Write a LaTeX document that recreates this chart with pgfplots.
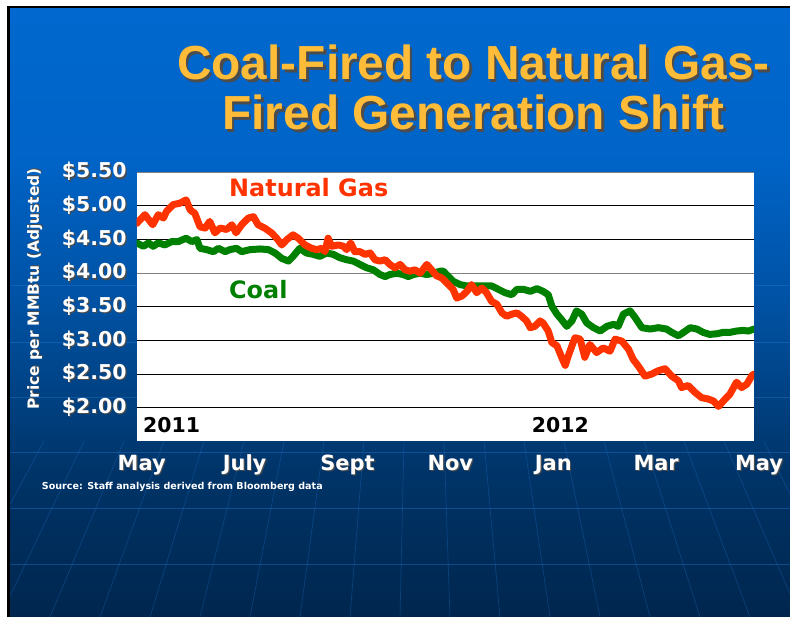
\documentclass[border=0pt]{standalone}
\usepackage{fontspec}
\setmainfont{DejaVu Sans}
\newfontfamily\titlefont{Liberation Sans}
\usepackage{pgfplots}
\pgfplotsset{compat=1.18}

\definecolor{gascol}{RGB}{255,51,0}
\definecolor{coalcol}{RGB}{0,128,0}
\definecolor{titlecol}{RGB}{255,188,56}
\definecolor{bg0}{RGB}{0,38,78}
\definecolor{bg1}{RGB}{0,52,104}
\definecolor{bg2}{RGB}{0,80,160}
\definecolor{bg3}{RGB}{0,100,200}
\definecolor{bg4}{RGB}{0,104,206}
\definecolor{bgline}{RGB}{40,120,210}
\pgfdeclareverticalshading{slide}{100bp}{color(0bp)=(bg0); color(25bp)=(bg0); color(37bp)=(bg1); color(50bp)=(bg2); color(63bp)=(bg3); color(75bp)=(bg4); color(100bp)=(bg4)}

% text with a small dark drop shadow
\newcommand\shadowed[2][1.2bp]{\rlap{\kern#1\raisebox{-#1}{\textcolor{black!70}{#2}}}#2}

\begin{document}
\begin{tikzpicture}
\begin{scope}[x=1bp,y=1bp]
\useasboundingbox (0,0) rectangle (790,617);
\fill[white] (0,0) rectangle (790,617);
\fill[black] (7,0) rectangle (790,611);
\shade[shading=slide] (10,0) rectangle (790,608);
% faint globe lines
\begin{scope}
\clip (10,0) rectangle (790,608);
\foreach \yy in {285,342,397,452,508,564}
  \draw[bgline, opacity=0.4, line width=0.8] (10,617-\yy) -- (790,617-\yy);
\foreach \b in {-100,-50,...,950}
  \draw[bgline, opacity=0.3, line width=0.7] ({420+(\b-420)*0.8},176) -- (\b,0);
\end{scope}
\end{scope}

\begin{axis}[
  at={(136.7bp,176.3bp)}, anchor=south west,
  scale only axis, width=617.3bp, height=268.4bp,
  xmin=0, xmax=12, ymin=1.51, ymax=5.5,
  axis line style={draw=none},
  axis background/.style={fill=white},
  xtick={0,2,4,6,8,10,12},
  xticklabels={\shadowed{May},\shadowed{July},\shadowed{Sept},\shadowed{Nov},\shadowed{Jan},\shadowed{Mar},\shadowed{May}},
  ytick={2,2.5,3,3.5,4.5,5},
  yticklabels={\shadowed{\$2.00},\shadowed{\$2.50},\shadowed{\$3.00},\shadowed{\$3.50},\shadowed{\$4.50},\shadowed{\$5.00}},
  extra y ticks={4,5.5},
  extra y tick labels={\shadowed{\$4.00},\shadowed{\$5.50}},
  extra y tick style={grid style={draw=gray, line width=1bp}},
  ymajorgrids,
  grid style={draw=black, line width=0.9bp},
  major tick length=0pt,
  tick style={draw=none},
  ticklabel style={text=white},
  yticklabel style={anchor=east, inner sep=0pt, xshift=-10bp, font=\bfseries\fontsize{20.5}{24}\selectfont},
  xticklabel style={anchor=north, inner sep=0pt, text height=16bp, text depth=4bp, yshift=-13.3bp, xshift=5bp, font=\bfseries\fontsize{21}{24}\selectfont},
]
\addplot[coalcol, line width=7bp, line join=round, line cap=round] coordinates {
(0.00,4.45) (0.13,4.40) (0.23,4.45) (0.32,4.40) (0.42,4.45) (0.55,4.42) (0.68,4.47) (0.81,4.47) (0.96,4.52) (1.07,4.47) (1.17,4.50) (1.23,4.37) (1.36,4.35) (1.49,4.32) (1.59,4.37) (1.72,4.32) (1.81,4.35) (1.94,4.37) (2.04,4.32) (2.20,4.35) (2.40,4.36) (2.56,4.35) (2.69,4.30) (2.82,4.22) (2.95,4.18) (3.04,4.25) (3.17,4.37) (3.30,4.30) (3.43,4.28) (3.56,4.25) (3.69,4.30) (3.82,4.28) (3.95,4.23) (4.08,4.20) (4.21,4.18) (4.34,4.13) (4.47,4.08) (4.60,4.05) (4.73,3.98) (4.83,3.95) (4.92,3.98) (5.05,4.00) (5.18,3.98) (5.28,3.95) (5.38,3.98) (5.51,4.00) (5.64,3.98) (5.77,4.00) (5.90,4.03) (5.96,4.03) (6.06,3.95) (6.15,3.88) (6.29,3.83) (6.42,3.81) (6.58,3.81) (6.74,3.81) (6.90,3.81) (7.03,3.76) (7.16,3.71) (7.29,3.68) (7.39,3.76) (7.52,3.76) (7.65,3.73) (7.78,3.77) (7.90,3.73) (8.00,3.68) (8.07,3.51) (8.17,3.39) (8.26,3.31) (8.36,3.21) (8.46,3.29) (8.55,3.44) (8.65,3.39) (8.75,3.26) (8.88,3.19) (9.01,3.14) (9.14,3.21) (9.27,3.24) (9.36,3.21) (9.46,3.39) (9.59,3.44) (9.69,3.34) (9.82,3.19) (9.98,3.17) (10.14,3.19) (10.30,3.17) (10.40,3.12) (10.53,3.07) (10.63,3.12) (10.76,3.19) (10.89,3.17) (11.01,3.12) (11.14,3.09) (11.28,3.10) (11.40,3.12) (11.53,3.12) (11.66,3.14) (11.79,3.15) (11.89,3.14) (12.00,3.17)
};
\addplot[gascol, line width=7bp, line join=round, line cap=round] coordinates {
(0.00,4.74) (0.16,4.87) (0.31,4.72) (0.42,4.87) (0.52,4.82) (0.58,4.92) (0.71,5.02) (0.84,5.04) (0.96,5.09) (1.04,4.94) (1.13,4.89) (1.23,4.69) (1.33,4.67) (1.42,4.77) (1.52,4.60) (1.62,4.67) (1.75,4.65) (1.85,4.72) (1.93,4.60) (2.04,4.72) (2.17,4.82) (2.27,4.84) (2.36,4.72) (2.49,4.67) (2.62,4.60) (2.72,4.52) (2.82,4.42) (2.92,4.50) (3.04,4.57) (3.14,4.52) (3.27,4.42) (3.40,4.37) (3.50,4.35) (3.60,4.37) (3.66,4.32) (3.72,4.52) (3.79,4.40) (3.92,4.42) (4.02,4.40) (4.08,4.35) (4.16,4.45) (4.24,4.32) (4.34,4.32) (4.44,4.28) (4.54,4.30) (4.63,4.20) (4.73,4.18) (4.83,4.20) (4.92,4.13) (5.02,4.08) (5.12,4.13) (5.22,4.05) (5.31,4.03) (5.41,4.05) (5.51,4.00) (5.64,4.13) (5.73,4.05) (5.83,3.96) (5.93,3.93) (6.06,3.83) (6.15,3.76) (6.22,3.63) (6.32,3.66) (6.42,3.73) (6.51,3.83) (6.61,3.71) (6.71,3.78) (6.80,3.71) (6.90,3.58) (7.00,3.54) (7.10,3.41) (7.19,3.36) (7.29,3.39) (7.39,3.41) (7.48,3.36) (7.58,3.29) (7.65,3.19) (7.74,3.21) (7.84,3.29) (7.90,3.26) (8.00,3.14) (8.07,2.97) (8.17,2.92) (8.26,2.75) (8.33,2.63) (8.39,2.77) (8.46,2.92) (8.52,3.04) (8.62,3.02) (8.71,2.75) (8.81,2.94) (8.94,2.82) (9.07,2.89) (9.20,2.84) (9.30,3.02) (9.43,2.99) (9.56,2.87) (9.65,2.72) (9.75,2.62) (9.88,2.47) (10.01,2.50) (10.14,2.55) (10.27,2.58) (10.40,2.47) (10.53,2.40) (10.59,2.30) (10.72,2.33) (10.85,2.23) (10.98,2.15) (11.11,2.13) (11.21,2.10) (11.31,2.02) (11.44,2.13) (11.53,2.20) (11.66,2.38) (11.76,2.30) (11.86,2.35) (11.96,2.48) (12.00,2.50)
};
\node[anchor=base west, inner sep=0pt, text=gascol, font=\bfseries\fontsize{24}{28}\selectfont] at (axis cs:1.794,5.139) {Natural Gas};
\node[anchor=base west, inner sep=0pt, text=coalcol, font=\bfseries\fontsize{24}{28}\selectfont] at (axis cs:1.794,3.624) {Coal};
\node[anchor=base west, inner sep=0pt, text=black, font=\bfseries\fontsize{20.5}{24}\selectfont] at (axis cs:0.122,1.636) {2011};
\node[anchor=base west, inner sep=0pt, text=black, font=\bfseries\fontsize{20.5}{24}\selectfont] at (axis cs:7.68,1.636) {2012};
\end{axis}

\begin{scope}[x=1bp,y=1bp]
\node[anchor=base, inner sep=0pt, text=titlecol, font=\titlefont\bfseries\fontsize{48}{52}\selectfont] at (473.5,537) {\shadowed[2.5bp]{Coal-Fired to Natural Gas-}};
\node[anchor=base, inner sep=0pt, text=titlecol, font=\titlefont\bfseries\fontsize{48}{52}\selectfont] at (473.5,487) {\shadowed[2.5bp]{Fired Generation Shift}};
\node[rotate=90, inner sep=0pt, text=white, font=\bfseries\fontsize{15.5}{18}\selectfont] at (35,328) {\shadowed[0.8bp]{Price per MMBtu (Adjusted)}};
\node[anchor=base west, inner sep=0pt, text=white, font=\bfseries\fontsize{9.6}{11}\selectfont] at (41.7,127.7) {Source: Staff analysis derived from Bloomberg data};
\end{scope}
\end{tikzpicture}
\end{document}
